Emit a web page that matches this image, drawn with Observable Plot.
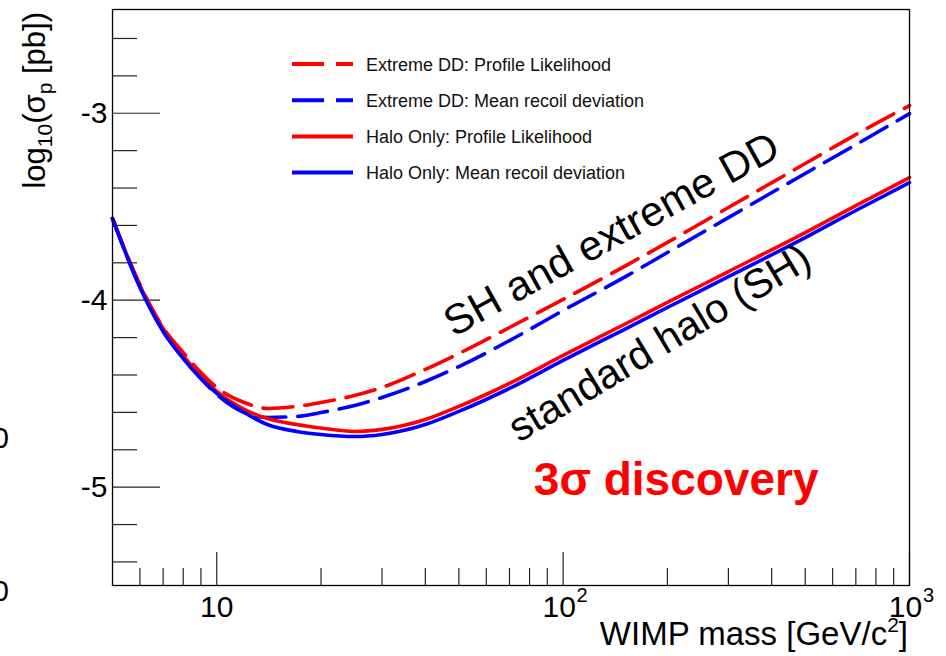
<!DOCTYPE html>
<html>
<head>
<meta charset="utf-8">
<script src="https://cdn.jsdelivr.net/npm/d3@7"></script>
<script src="https://cdn.jsdelivr.net/npm/@observablehq/plot@0.6"></script>
<style>
  html, body { margin: 0; padding: 0; background: #fff; }
  #chart svg { display: block; font-family: "Liberation Sans", Arial, sans-serif; }
</style>
</head>
<body>
<div id="chart"></div>
<script>
// WIMP mass grid [GeV/c^2]
const mass = [5, 6, 7, 8, 9, 10, 12, 14, 17, 20, 25, 30, 40, 50, 70, 100, 150, 200, 300, 500, 700, 1000];

// log10(sigma_p [pb]) needed for a 3 sigma discovery
const extremePL  = [-3.563, -3.916, -4.146, -4.280, -4.387, -4.467, -4.547, -4.579, -4.568, -4.547, -4.510, -4.467, -4.370, -4.285, -4.146, -3.996, -3.820, -3.691, -3.504, -3.269, -3.114, -2.959];
const extremeMRD = [-3.563, -3.927, -4.162, -4.306, -4.419, -4.504, -4.601, -4.627, -4.622, -4.601, -4.563, -4.520, -4.435, -4.355, -4.216, -4.055, -3.878, -3.745, -3.558, -3.322, -3.168, -3.002];
const haloPL     = [-3.563, -3.921, -4.151, -4.296, -4.408, -4.488, -4.584, -4.633, -4.665, -4.684, -4.702, -4.691, -4.638, -4.568, -4.445, -4.295, -4.130, -4.012, -3.847, -3.638, -3.494, -3.344];
const haloMRD    = [-3.563, -3.932, -4.167, -4.312, -4.419, -4.499, -4.601, -4.665, -4.702, -4.718, -4.729, -4.718, -4.665, -4.595, -4.472, -4.322, -4.157, -4.039, -3.874, -3.665, -3.520, -3.371];

const seriesNames = [
  "Extreme DD: Profile Likelihood",
  "Extreme DD: Mean recoil deviation",
  "Halo Only: Profile Likelihood",
  "Halo Only: Mean recoil deviation"
];
const seriesValues = [extremePL, extremeMRD, haloPL, haloMRD];

// axis ticks and labels
const yMajor = [-5, -4, -3];
const yMajorLabels = ["-5", "-4", "-3"];
const yMinor = [-5.4, -5.2, -4.8, -4.6, -4.4, -4.2, -3.8, -3.6, -3.4, -3.2, -2.8, -2.6];
const xMajor = [10, 100, 1000];
const xMajorBase = ["10", "10", "10"];
const xMajorExp = ["", "2", "3"];
const xMinor = [6, 7, 8, 9, 20, 30, 40, 50, 60, 70, 80, 90, 200, 300, 400, 500, 600, 700, 800, 900];

// text annotations placed in data coordinates
const noteText = ["SH and extreme DD", "standard halo (SH)", "3σ discovery"];
const noteMass = [138, 190, 212];
const noteSigma = [-3.649, -4.230, -4.964];

// styles per series
const style = {
  "Extreme DD: Profile Likelihood":    {stroke: "#ff0000", dash: "30,12"},
  "Extreme DD: Mean recoil deviation": {stroke: "#0000ff", dash: "30,12"},
  "Halo Only: Profile Likelihood":     {stroke: "#ff0000", dash: null},
  "Halo Only: Mean recoil deviation":  {stroke: "#0000ff", dash: null}
};

const rows = seriesNames.flatMap((name, s) =>
  mass.map((m, i) => ({series: name, mass: m, logSigma: seriesValues[s][i]}))
);
const xLabels = xMajor.map((v, i) => ({value: v, base: xMajorBase[i], exp: xMajorExp[i]}));
const notes = noteText.map((t, i) => ({text: t, mass: noteMass[i], logSigma: noteSigma[i]}));

const lineMarks = seriesNames.map(name =>
  Plot.line(rows.filter(d => d.series === name), {
    x: "mass", y: "logSigma",
    stroke: style[name].stroke,
    strokeWidth: 3.6,
    strokeDasharray: style[name].dash,
    curve: "monotone-x"
  })
);

const chart = Plot.plot({
  width: 946,
  height: 656,
  marginLeft: 112,
  marginRight: 37,
  marginTop: 9,
  marginBottom: 71,
  style: {fontFamily: "Liberation Sans, Arial, sans-serif", background: "#fff"},
  x: {type: "log", domain: [5, 1000], axis: null},
  y: {domain: [-5.526, -2.445], axis: null},
  marks: [
    // inward ticks
    Plot.axisY(yMajor, {anchor: "left", tickSize: 48, dx: 48, fill: "none", stroke: "#222", strokeWidth: 1.2}),
    Plot.axisY(yMinor, {anchor: "left", tickSize: 25, dx: 25, fill: "none", stroke: "#222", strokeWidth: 1.2}),
    Plot.axisX(xMajor, {anchor: "bottom", tickSize: 33, dy: -33, fill: "none", stroke: "#222", strokeWidth: 1.2}),
    Plot.axisX(xMinor, {anchor: "bottom", tickSize: 17, dy: -17, fill: "none", stroke: "#222", strokeWidth: 1.2}),
    // tick labels
    Plot.text(yMajor, {y: d => d, text: (d, i) => yMajorLabels[i], frameAnchor: "left", dx: -5, textAnchor: "end", lineAnchor: "middle", fontSize: 30, fill: "#000"}),
    Plot.text(xLabels.filter(d => !d.exp), {x: "value", text: "base", frameAnchor: "bottom", dy: 22, lineAnchor: "middle", fontSize: 30, fill: "#000"}),
    Plot.text(xLabels.filter(d => d.exp), {x: "value", text: "base", frameAnchor: "bottom", dx: -4, dy: 22, lineAnchor: "middle", fontSize: 30, fill: "#000"}),
    Plot.text(xLabels.filter(d => d.exp), {x: "value", text: "exp", frameAnchor: "bottom", dx: 19, dy: 10, lineAnchor: "middle", fontSize: 20, fill: "#000"}),
    // curves
    ...lineMarks,
    // annotations
    Plot.text(notes.slice(0, 1), {x: "mass", y: "logSigma", text: "text", rotate: -29, fontSize: 42, fill: "#000", lineAnchor: "middle"}),
    Plot.text(notes.slice(1, 2), {x: "mass", y: "logSigma", text: "text", rotate: -31, fontSize: 41, fill: "#000", lineAnchor: "middle"}),
    Plot.text(notes.slice(2), {x: "mass", y: "logSigma", text: "text", fontSize: 46, fontWeight: "bold", fill: "#ff0000", lineAnchor: "middle"}),
    Plot.frame({stroke: "#000", strokeWidth: 1.3})
  ]
});

document.getElementById("chart").appendChild(chart);

const svg = d3.select(chart);

// legend
const legend = svg.append("g").attr("font-size", 18).attr("fill", "#111").attr("text-anchor", "start");
seriesNames.forEach((name, i) => {
  const y = 64 + i * 36.2;
  legend.append("line")
    .attr("x1", 292).attr("x2", 353).attr("y1", y).attr("y2", y)
    .attr("stroke", style[name].stroke).attr("stroke-width", 4)
    .attr("stroke-dasharray", style[name].dash ? "32,12" : null);
  legend.append("text").attr("x", 366).attr("y", y + 6.5).text(name);
});

// axis titles
const yTitle = svg.append("text")
  .attr("transform", "translate(45,12) rotate(-90)")
  .attr("text-anchor", "end").attr("font-size", 31).attr("fill", "#000");
yTitle.append("tspan").text("log");
yTitle.append("tspan").attr("font-size", 21).attr("dy", 7).text("10");
yTitle.append("tspan").attr("dy", -7).text("(σ");
yTitle.append("tspan").attr("font-size", 21).attr("dy", 7).text("p");
yTitle.append("tspan").attr("dy", -7).text(" [pb])");

const xTitle = svg.append("text")
  .attr("x", 908).attr("y", 645)
  .attr("text-anchor", "end").attr("font-size", 33).attr("fill", "#000");
xTitle.append("tspan").text("WIMP mass [GeV/c");
xTitle.append("tspan").attr("font-size", 21).attr("dy", -13).text("2");
xTitle.append("tspan").attr("dy", 13).text("]");

// edge labels of the neighbouring panel
svg.append("text").attr("x", 9).attr("y", 448).attr("text-anchor", "end").attr("font-size", 30).text("0");
svg.append("text").attr("x", 9).attr("y", 601).attr("text-anchor", "end").attr("font-size", 30).text("0");
</script>
</body>
</html>
